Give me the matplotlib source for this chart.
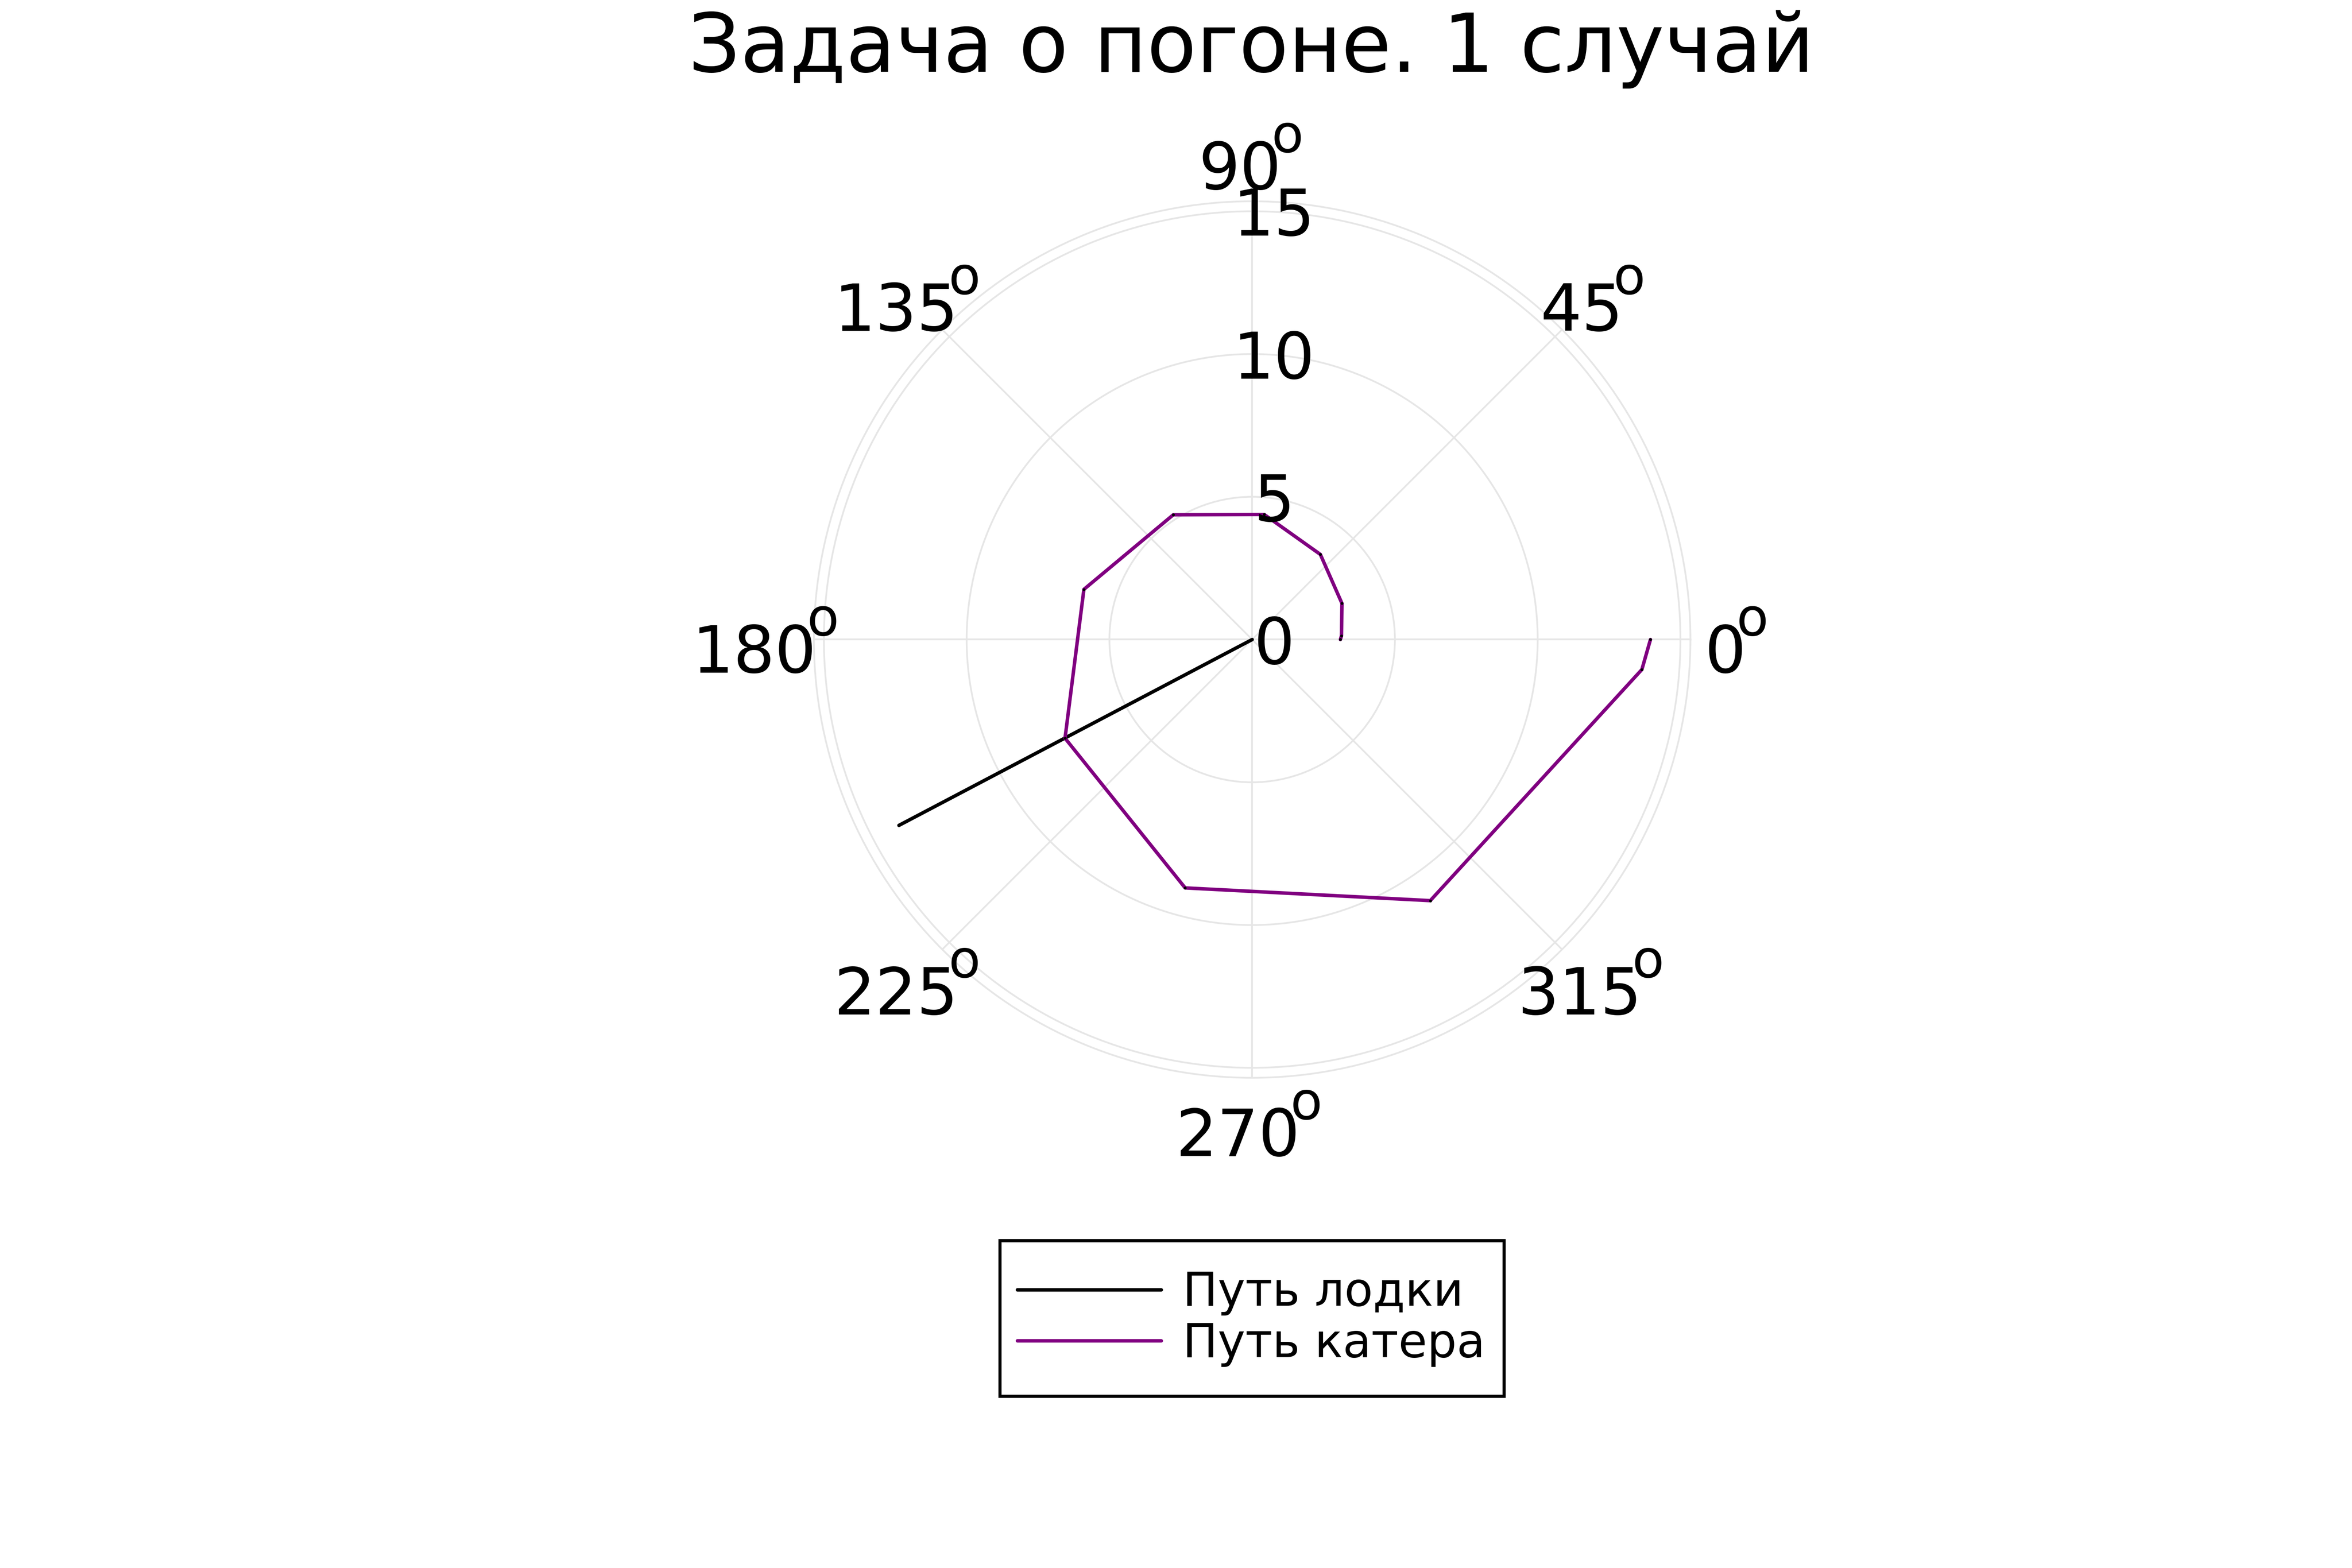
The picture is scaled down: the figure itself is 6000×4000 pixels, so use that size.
import numpy as np
import matplotlib
matplotlib.use("Agg")
import matplotlib.pyplot as plt
from matplotlib.patches import Rectangle
from matplotlib.transforms import offset_copy

plt.rcParams["font.family"] = ["DejaVu Sans"]

title = "Задача о погоне. 1 случай"

# путь лодки (прямая из начала координат)
boat_theta = [207.75, 207.75]   # градусы
boat_r = [0.0, 13.98]

# путь катера (точки решения)
cutter_theta = [0.0, 2.4, 21.9, 51.3, 84.5, 122.3, 163.4, 207.8, 254.9, 304.3, 355.6, 360.0]
cutter_r = [3.09, 3.13, 3.39, 3.82, 4.40, 5.17, 6.15, 7.41, 9.01, 11.07, 13.69, 13.95]

angle_ticks = [0, 45, 90, 135, 180, 225, 270, 315]
r_ticks = [0, 5, 10, 15]
r_max = 15.35

grid_col = "#e6e6e6"
DPI = 400

fig = plt.figure(figsize=(15, 10), dpi=DPI)
ax = fig.add_axes([0.34605, 0.31263, 0.37267, 0.559], projection="polar")

ax.plot(np.deg2rad(boat_theta), boat_r, color="black", lw=1.6,
        solid_capstyle="round", label="Путь лодки")
ax.plot(np.deg2rad(cutter_theta), cutter_r, color="purple", lw=1.6,
        solid_capstyle="round", label="Путь катера")
# маленькие точки в узлах
ax.plot(np.deg2rad(cutter_theta), cutter_r, ls="none", marker="o", ms=1.3,
        mfc="black", mec="black", mew=0)

ax.set_ylim(0, r_max)
ax.set_thetagrids(angle_ticks, labels=[""] * len(angle_ticks))
ax.set_rgrids([5, 10, 15], labels=[""] * 3)
ax.grid(color=grid_col, lw=0.8)
ax.spines["polar"].set_color(grid_col)
ax.spines["polar"].set_linewidth(0.8)
ax.tick_params(length=0)


def px(trans, dx, dy):
    return offset_copy(trans, fig=fig, x=dx / DPI, y=dy / DPI, units="inches")


# подписи углов: цифры + верхний индекс "o"
for a in angle_ticks:
    s = str(a)
    digits_w = 95 * len(s) - 5
    dx_right = (digits_w - 68) / 2 + 16
    th = np.deg2rad(a)
    ax.text(th, 16.93, s, transform=px(ax.transData, dx_right, -84.5),
            ha="right", va="baseline", fontsize=29.9)
    ax.text(th, 16.93, "o", transform=px(ax.transData, dx_right - 25, 10),
            ha="left", va="baseline", fontsize=24)

# подписи радиусов
for r in r_ticks:
    ax.text(np.pi / 2, r, str(r), transform=px(ax.transData, 56, 0),
            ha="center", va="center_baseline", fontsize=29.5)

fig.text(0.532, 0.95425, title, ha="center", va="baseline", fontsize=37.2)

# рамка легенды
fig.add_artist(Rectangle((0.42517, 0.1095), 0.21433, 0.09925,
                         transform=fig.transFigure, facecolor="white",
                         edgecolor="black", lw=1.44, zorder=4))
leg = fig.legend(loc="center", bbox_to_anchor=(0.53192, 0.1591), fontsize=21.4,
                 frameon=False, borderpad=0, handlelength=3.09,
                 handletextpad=0.46, labelspacing=0.12)
leg.set_zorder(5)

fig.savefig("out.png", dpi=DPI)
